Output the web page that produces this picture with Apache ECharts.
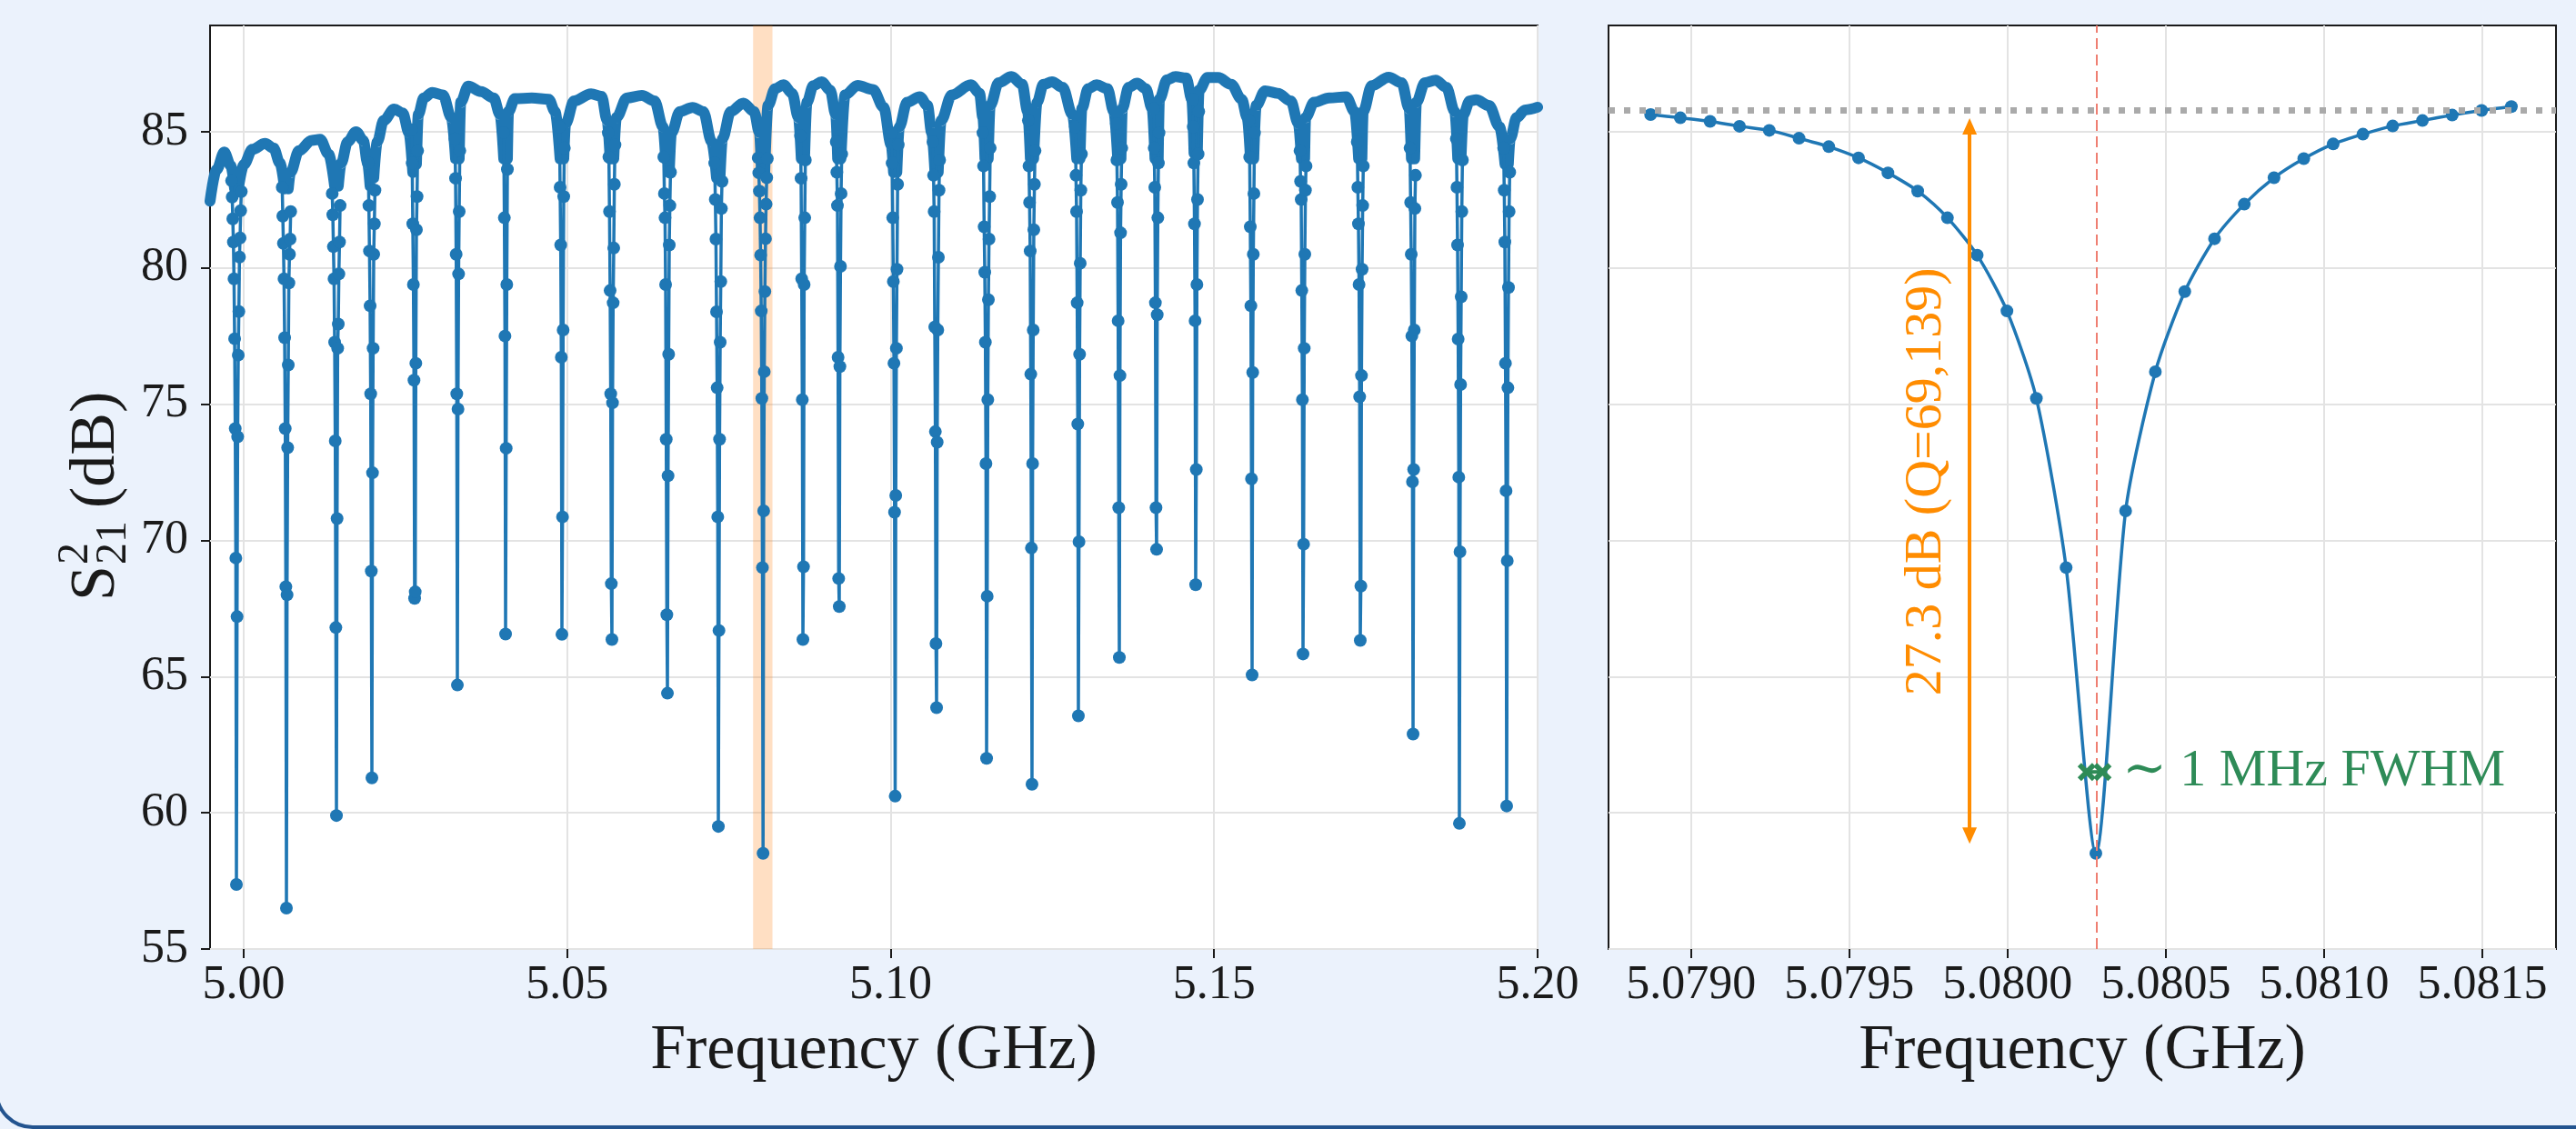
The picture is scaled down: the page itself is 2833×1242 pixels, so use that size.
<!DOCTYPE html>
<html>
<head>
<meta charset="utf-8">
<title>S21 resonances</title>
<script src="https://cdn.jsdelivr.net/npm/echarts@6/dist/echarts.min.js"></script>
<style>
  html, body { margin: 0; padding: 0; background: #ebf2fc; }
  #main { width: 2833px; height: 1242px; }
</style>
</head>
<body>
<div id="main"></div>
<script>
// ---- data ----
// wide sweep: axis ranges and ticks
var mainRange = [4.9948, 5.2];
var mainTicks = [5.00, 5.05, 5.10, 5.15, 5.20];
var dbRange = [55, 88.9];
var dbTicks = [55, 60, 65, 70, 75, 80, 85];

// top band of the wide sweep (arches between resonances), one line per arch
var bandFreq = [
  4.9948, 4.9958, 4.9970, 4.9980, 4.99860,
  4.99916, 5.00004, 5.00134, 5.00331, 5.00461, 5.00560, 5.00633,
  5.00689, 5.00723, 5.00854, 5.01050, 5.01181, 5.01312, 5.01406,
  5.01462, 5.01508, 5.01607, 5.01737, 5.01849, 5.01914, 5.01954,
  5.02010, 5.02065, 5.02163, 5.02326, 5.02457, 5.02555, 5.02614,
  5.02670, 5.02699, 5.02784, 5.02915, 5.03079, 5.03210, 5.03275,
  5.03331, 5.03354, 5.03471, 5.03668, 5.03864, 5.03962, 5.04020,
  5.04076, 5.04093, 5.04191, 5.04453, 5.04715, 5.04813, 5.04891,
  5.04947, 5.04976, 5.05107, 5.05369, 5.05532, 5.05618, 5.05664,
  5.05720, 5.05761, 5.05925, 5.06154, 5.06350, 5.06481, 5.06522,
  5.06578, 5.06612, 5.06743, 5.06939, 5.07103, 5.07234, 5.07309,
  5.07362, 5.07400, 5.07528, 5.07724, 5.07888, 5.07973, 5.08003,
  5.08053, 5.08104, 5.08215, 5.08346, 5.08477, 5.08575, 5.08619,
  5.08669, 5.08706, 5.08804, 5.08935, 5.09066, 5.09151, 5.09181,
  5.09231, 5.09295, 5.09491, 5.09726, 5.09891, 5.10010, 5.10045,
  5.10095, 5.10135, 5.10253, 5.10451, 5.10569, 5.10635, 5.10685,
  5.10735, 5.10780, 5.10945, 5.11242, 5.11373, 5.11426, 5.11458,
  5.11508, 5.11538, 5.11670, 5.11868, 5.12032, 5.12118, 5.12160,
  5.12210, 5.12263, 5.12362, 5.12494, 5.12658, 5.12810, 5.12877,
  5.12927, 5.12955, 5.13054, 5.13185, 5.13350, 5.13449, 5.13510,
  5.13560, 5.13581, 5.13680, 5.13811, 5.13943, 5.14042, 5.14086,
  5.14136, 5.14154, 5.14273, 5.14404, 5.14569, 5.14655, 5.14690,
  5.14740, 5.14767, 5.14899, 5.15063, 5.15261, 5.15426, 5.15511, 5.15562,
  5.15612, 5.15650, 5.15788, 5.15986, 5.16184, 5.16302, 5.16349,
  5.16399, 5.16414, 5.16546, 5.16777, 5.17040, 5.17172, 5.17234,
  5.17284, 5.17304, 5.17436, 5.17699, 5.17897, 5.18015, 5.18050,
  5.18100, 5.18127, 5.18259, 5.18424, 5.18589, 5.18720, 5.18766,
  5.18816, 5.18852, 5.18951, 5.19050, 5.19248, 5.19412, 5.19497,
  5.19547, 5.19577, 5.19676, 5.19808, 5.20000
];
var bandDb = [
  82.45, 83.6, 84.25, 83.75, 82.9,
  82.9, 83.8, 84.35, 84.57, 84.4, 83.85, 82.9,
  82.9, 83.5, 84.3, 84.68, 84.72, 84.18, 83.0,
  83.0, 83.85, 84.63, 85.0, 84.68, 83.85, 83.0,
  83.3, 84.63, 85.41, 85.83, 85.69, 84.96, 83.5,
  83.8, 85.63, 86.24, 86.44, 86.35, 85.52, 84.0,
  84.0, 86.08, 86.67, 86.47, 86.24, 85.63, 84.0,
  84.0, 85.74, 86.21, 86.24, 86.19, 85.74, 84.0,
  84.0, 85.3, 86.13, 86.39, 86.3, 85.41, 84.0,
  84.0, 85.52, 86.24, 86.33, 86.13, 85.18, 84.0,
  83.5, 84.96, 85.74, 85.89, 85.74, 84.63, 83.3,
  83.3, 84.74, 85.74, 86.05, 85.74, 84.96, 83.5,
  83.5, 85.96, 86.58, 86.72, 86.41, 85.52, 84.0,
  84.0, 86.08, 86.69, 86.83, 86.52, 85.63, 84.0,
  84.0, 86.35, 86.7, 86.55, 85.9, 84.5, 83.5,
  83.5, 85.18, 86.08, 86.28, 85.96, 84.96, 83.5,
  83.5, 85.41, 86.35, 86.72, 86.41, 85.52, 84.0,
  84.0, 85.96, 86.8, 87.02, 86.74, 85.74, 84.0,
  84.0, 86.08, 86.74, 86.83, 86.63, 85.63, 84.0,
  84.0, 85.85, 86.58, 86.72, 86.58, 85.74, 84.0,
  84.0, 85.85, 86.63, 86.78, 86.58, 85.85, 84.0,
  84.0, 86.19, 86.91, 87.02, 86.97, 86.19, 84.2,
  84.2, 86.52, 86.99, 86.99, 86.74, 86.19, 85.52, 84.0,
  84.0, 85.96, 86.5, 86.41, 86.13, 85.3, 84.0,
  84.0, 85.52, 86.08, 86.24, 86.28, 85.74, 84.0,
  84.0, 85.74, 86.69, 87.0, 86.8, 85.85, 84.0,
  84.0, 86.08, 86.8, 86.89, 86.63, 85.74, 84.0,
  84.0, 85.63, 86.13, 86.17, 85.96, 85.18, 83.8,
  83.8, 84.74, 85.52, 85.8, 85.9
];

// resonance dips: centre, deepest point, and the other visible points on the two flanks
var dipFreq = [4.99888, 5.00661, 5.01434, 5.01982, 5.02642, 5.03303, 5.04048, 5.04919,
  5.05692, 5.06550, 5.07337, 5.08028, 5.08644, 5.09206, 5.10070, 5.10710, 5.11483,
  5.12185, 5.12902, 5.13535, 5.14111, 5.14715, 5.15587, 5.16374, 5.17259, 5.18075,
  5.18791, 5.19522];
var dipMin = [57.37, 56.5, 59.9, 61.28, 67.87, 64.69, 66.56, 66.55, 66.36, 64.39, 59.5,
  58.51, 66.36, 67.57, 60.61, 63.86, 62.0, 61.05, 63.56, 65.7, 69.67, 68.37, 65.06,
  65.83, 66.33, 62.89, 59.61, 60.25];
var dipLevels = [
  [83.2, 82.8, 82.6, 82.1, 81.8, 81.1, 80.95, 80.4, 79.6, 78.4, 77.4, 76.8, 74.1, 73.8, 69.35, 67.2],
  [82.96, 82.07, 81.9, 81.06, 80.9, 80.5, 79.6, 79.45, 77.44, 76.44, 74.1, 73.4, 68.3, 68.0],
  [82.73, 82.29, 81.95, 80.95, 80.78, 79.78, 79.6, 77.94, 77.27, 77.05, 73.65, 70.8, 66.8],
  [83.85, 82.85, 82.29, 81.62, 80.62, 80.5, 78.61, 77.05, 75.38, 72.48, 68.87],
  [85.07, 84.3, 83.85, 82.62, 81.62, 81.4, 79.39, 76.5, 75.88, 68.11],
  [84.74, 84.3, 83.29, 82.07, 80.5, 79.78, 75.38, 74.82],
  [84.96, 83.62, 81.84, 79.39, 77.5, 73.38],
  [85.18, 84.4, 82.96, 82.62, 80.84, 77.72, 76.72, 70.86],
  [84.96, 84.52, 84.07, 83.07, 82.07, 80.73, 79.17, 78.72, 75.38, 75.05, 68.41],
  [84.07, 83.51, 82.73, 82.29, 81.84, 80.84, 79.39, 76.83, 73.71, 72.37, 67.27],
  [83.85, 83.18, 82.51, 82.18, 81.06, 79.5, 78.39, 77.27, 75.6, 73.71, 70.86, 66.69],
  [84.04, 84.01, 83.49, 83.31, 82.82, 82.34, 81.84, 81.07, 80.47, 79.13, 78.42, 76.19, 75.21, 71.08, 69.0],
  [84.85, 83.96, 83.29, 81.84, 79.6, 79.39, 75.16, 69.03],
  [84.63, 84.18, 83.51, 82.73, 82.29, 80.06, 76.72, 76.38, 68.6],
  [84.96, 84.52, 83.85, 83.07, 81.84, 79.95, 79.5, 77.05, 76.5, 71.65, 71.03],
  [84.63, 83.96, 83.4, 82.85, 82.07, 80.39, 77.83, 77.72, 73.99, 73.6, 66.21],
  [84.96, 84.4, 83.74, 82.62, 81.51, 81.06, 79.84, 78.83, 77.27, 75.16, 72.82, 67.95],
  [85.41, 84.3, 83.74, 83.07, 82.4, 81.4, 80.62, 77.72, 76.1, 72.82, 69.72],
  [85.18, 84.18, 83.4, 82.85, 82.07, 80.17, 78.72, 76.83, 74.27, 69.95],
  [85.3, 84.4, 83.96, 83.07, 82.4, 81.29, 78.06, 76.05, 71.2],
  [85.85, 84.96, 84.4, 83.85, 82.96, 81.84, 78.72, 78.28, 71.2],
  [86.19, 85.74, 85.18, 84.18, 83.85, 82.51, 81.62, 79.39, 78.06, 72.6],
  [85.41, 84.96, 84.07, 82.73, 81.51, 80.5, 78.61, 76.16, 72.26],
  [84.3, 83.74, 83.18, 82.85, 82.51, 80.5, 79.17, 77.05, 75.16, 69.86],
  [84.63, 83.74, 82.96, 82.29, 81.62, 79.95, 79.39, 76.05, 75.27, 68.32],
  [84.4, 83.4, 82.4, 82.18, 80.5, 77.72, 77.5, 72.6, 72.15],
  [84.74, 83.96, 82.96, 82.07, 80.84, 78.94, 77.39, 75.72, 72.32, 69.58],
  [84.4, 83.51, 82.85, 82.07, 80.95, 79.28, 76.5, 75.6, 71.82, 69.25]
];
var sweepStep = 0.0000938;   // spacing of the measured points (GHz)

// zoom on the highlighted resonance
var zoomRange = [5.078739, 5.081733];
var zoomTicks = [5.0790, 5.0795, 5.0800, 5.0805, 5.0810, 5.0815];
var zoomFreq = [5.078872, 5.078966, 5.079060, 5.079153, 5.079247, 5.079341, 5.079435,
  5.079529, 5.079622, 5.079716, 5.079810, 5.079904, 5.079998, 5.080091, 5.080185,
  5.080279, 5.080373, 5.080467, 5.080560, 5.080654, 5.080748, 5.080842, 5.080936,
  5.081029, 5.081123, 5.081217, 5.081311, 5.081405, 5.081498, 5.081592];
var zoomDb = [85.63, 85.51, 85.38, 85.20, 85.05, 84.76, 84.45, 84.04, 83.49, 82.82,
  81.84, 80.47, 78.42, 75.21, 69.00, 58.51, 71.08, 76.19, 79.13, 81.07, 82.34, 83.31,
  84.01, 84.55, 84.91, 85.21, 85.41, 85.61, 85.78, 85.92];

// annotations
var baselineDb = 85.8;
var dipCenter = 5.08028;
var depthFreq = 5.07988;
var depthText = '27.3 dB (Q=69,139)';
var fwhmFreq = [5.080250, 5.080300];
var fwhmDb = [61.5, 61.5];
var fwhmText = '\u223C 1 MHz FWHM';

// ---- build series data ----
function pairs(xs, ys) {
  var out = [];
  for (var i = 0; i < xs.length; i++) out.push([xs[i], ys[i]]);
  return out;
}

// arches, cut at every dip so each one ends on its own wall
function bandPoints() {
  var out = [], d = 0;
  for (var i = 0; i < bandFreq.length; i++) {
    while (d < dipFreq.length && dipFreq[d] < bandFreq[i]) {
      out.push([dipFreq[d], '-']);
      d++;
    }
    out.push([bandFreq[i], bandDb[i]]);
  }
  return out;
}

// each dip: left flank going down, minimum, right flank going up, then a gap
function dipPoints() {
  var out = [];
  for (var i = 0; i < dipFreq.length; i++) {
    var lv = dipLevels[i].slice().sort(function (a, b) { return b - a; });
    var L = [], R = [];
    lv.forEach(function (v, k) { (k % 2 === 0 ? L : R).push(v); });
    for (var j = 0; j < L.length; j++) out.push([dipFreq[i] - (L.length - j) * sweepStep, L[j]]);
    out.push([dipFreq[i], dipMin[i]]);
    for (var j = R.length - 1; j >= 0; j--) out.push([dipFreq[i] + (R.length - j) * sweepStep, R[j]]);
    out.push([dipFreq[i], '-']);
  }
  return out;
}

var FONT = 'Liberation Serif';
var CFONT = '"Liberation Serif", "DejaVu Serif", serif';
var BLUE = '#1f77b4';
var ORANGE = '#ff8c00';
var GREEN = '#2e8b57';
var INK = '#1a1a1a';
// filled "x" marker
var CROSS = 'path://M0,2L2,0L5,3L8,0L10,2L7,5L10,8L8,10L5,7L2,10L0,8L3,5Z';

function xAxisOf(grid, range, ticks, step, digits) {
  return {
    type: 'value', gridIndex: grid, min: range[0], max: range[1],
    minInterval: step, maxInterval: step,
    axisLine: { show: false },
    axisTick: { show: true, length: 10, customValues: ticks, lineStyle: { color: INK, width: 2 } },
    axisLabel: {
      customValues: ticks, margin: 14, fontFamily: FONT, fontSize: 52, color: INK,
      formatter: function (v) { return Number(v).toFixed(digits); }
    },
    splitLine: { show: true, lineStyle: { color: '#e3e3e3', width: 2 } },
    name: 'Frequency (GHz)', nameLocation: 'middle', nameGap: 78,
    nameTextStyle: { fontFamily: FONT, fontSize: 70, color: INK }
  };
}

function yAxisOf(grid, showLabels) {
  return {
    type: 'value', gridIndex: grid, min: dbRange[0], max: dbRange[1], interval: 5,
    axisLine: { show: false },
    axisTick: { show: showLabels, length: 10, customValues: dbTicks, lineStyle: { color: INK, width: 2 } },
    axisLabel: {
      show: showLabels, customValues: dbTicks, margin: 24, fontFamily: FONT, fontSize: 52, color: INK,
      formatter: function (v) { return v % 5 === 0 ? String(v) : ''; }
    },
    splitLine: { show: true, lineStyle: { color: '#e3e3e3', width: 2 } }
  };
}

var chart = echarts.init(document.getElementById('main'));

var option = {
  backgroundColor: '#ebf2fc',
  animation: false,
  grid: [
    { left: 231, top: 28, width: 1460, height: 1016, show: true, backgroundColor: '#fff', borderColor: INK, borderWidth: 2 },
    { left: 1769, top: 28, width: 1042, height: 1016, show: true, backgroundColor: '#fff', borderColor: INK, borderWidth: 2 }
  ],
  xAxis: [
    xAxisOf(0, mainRange, mainTicks, 0.05, 2),
    xAxisOf(1, zoomRange, zoomTicks, 0.0005, 4)
  ],
  yAxis: [yAxisOf(0, true), yAxisOf(1, false)],
  series: [
    {
      // highlighted window on the wide sweep
      type: 'line', xAxisIndex: 0, yAxisIndex: 0, data: [], z: 1, silent: true,
      markArea: {
        silent: true,
        itemStyle: { color: 'rgba(255, 127, 14, 0.25)' },
        data: [[{ xAxis: zoomRange[0] }, { xAxis: zoomRange[1] }]]
      }
    },
    {
      type: 'line', xAxisIndex: 0, yAxisIndex: 0, z: 3, silent: true,
      data: bandPoints(), connectNulls: false,
      showSymbol: false, smooth: 0.35, smoothMonotone: 'x',
      lineStyle: { color: BLUE, width: 12, cap: 'round', join: 'round' }
    },
    {
      type: 'line', xAxisIndex: 0, yAxisIndex: 0, z: 4, silent: true,
      data: dipPoints(), connectNulls: false,
      symbol: 'circle', symbolSize: 14, showSymbol: true,
      itemStyle: { color: BLUE },
      lineStyle: { color: BLUE, width: 3.5 }
    },
    {
      // reference lines on the zoom
      type: 'line', xAxisIndex: 1, yAxisIndex: 1, data: [], z: 2, silent: true,
      markLine: {
        silent: true, symbol: ['none', 'none'], label: { show: false },
        data: [
          { yAxis: baselineDb, lineStyle: { color: '#aaaaaa', width: 7, type: [7, 10] } },
          [
            { coord: [dipCenter, dbRange[0]], lineStyle: { color: '#ef7f72', width: 2, type: [12, 6] } },
            { coord: [dipCenter, dbRange[1]] }
          ]
        ]
      }
    },
    {
      type: 'line', xAxisIndex: 1, yAxisIndex: 1, z: 4, silent: true,
      data: pairs(zoomFreq, zoomDb),
      smooth: 0.25, symbol: 'circle', symbolSize: 14,
      itemStyle: { color: BLUE },
      lineStyle: { color: BLUE, width: 3.5 }
    },
    {
      // depth arrow
      type: 'line', xAxisIndex: 1, yAxisIndex: 1, data: [], z: 6, silent: true,
      markLine: {
        silent: true, symbol: ['triangle', 'triangle'], symbolSize: [16, 18],
        label: { show: false },
        lineStyle: { color: ORANGE, width: 4, type: 'solid' },
        data: [[{ coord: [depthFreq, baselineDb - 0.6] }, { coord: [depthFreq, dipMin[11] + 0.65] }]]
      }
    },
    {
      type: 'line', xAxisIndex: 1, yAxisIndex: 1, z: 7, silent: true,
      data: pairs(fwhmFreq, fwhmDb),
      symbol: CROSS, symbolSize: 20,
      itemStyle: { color: GREEN },
      lineStyle: { color: GREEN, width: 4 }
    }
  ]
};
chart.setOption(option);

// text annotations placed from data coordinates
var pTop = chart.convertToPixel({ gridIndex: 1 }, [depthFreq, baselineDb]);
var pBot = chart.convertToPixel({ gridIndex: 1 }, [depthFreq, dipMin[11]]);
var pFw = chart.convertToPixel({ gridIndex: 1 }, [fwhmFreq[1], fwhmDb[1]]);

chart.setOption({
  graphic: [
    {
      type: 'group', x: 107, y: 545, rotation: Math.PI / 2, silent: true,
      children: [
        { type: 'text', x: -116, y: 0, style: { text: 'S', font: '70px ' + CFONT, fill: INK, align: 'left', verticalAlign: 'middle' } },
        { type: 'text', x: -76, y: -24, style: { text: '2', font: '48px ' + CFONT, fill: INK, align: 'left', verticalAlign: 'middle' } },
        { type: 'text', x: -76, y: 18, style: { text: '21', font: '48px ' + CFONT, fill: INK, align: 'left', verticalAlign: 'middle' } },
        { type: 'text', x: -14, y: 0, style: { text: '(dB)', font: '70px ' + CFONT, fill: INK, align: 'left', verticalAlign: 'middle' } }
      ]
    },
    {
      type: 'text', silent: true, x: pTop[0] - 47, y: (pTop[1] + pBot[1]) / 2, rotation: Math.PI / 2,
      style: { text: depthText, font: '58px ' + CFONT, fill: ORANGE, align: 'center', verticalAlign: 'middle' }
    },
    {
      type: 'text', silent: true, x: pFw[0] + 22, y: pFw[1],
      style: { text: fwhmText, font: '58px ' + CFONT, fill: GREEN, align: 'left', verticalAlign: 'middle' }
    },
    {
      // rounded frame edge at the bottom left of the card
      type: 'rect', silent: true, z: 100,
      shape: { x: -4, y: -60, width: 2900, height: 1300, r: 40 },
      style: { fill: 'none', stroke: '#23548f', lineWidth: 4 }
    }
  ]
});
</script>
</body>
</html>
